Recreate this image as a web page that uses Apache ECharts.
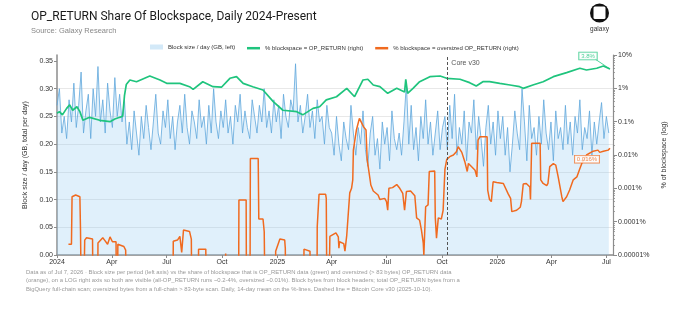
<!DOCTYPE html>
<html><head><meta charset="utf-8">
<script src="https://cdn.jsdelivr.net/npm/echarts@6/dist/echarts.min.js"></script>
<style>html,body{margin:0;padding:0;background:#fff}#c{width:679px;height:314px}</style>
</head><body><div id="c"></div>
<script>
// ---------- DATA ----------
const titleText = 'OP_RETURN Share Of Blockspace, Daily 2024-Present';
const subtitleText = 'Source: Galaxy Research';
const seriesNames = ['Block size / day (GB, left)', '% blockspace = OP_RETURN (right)', '% blockspace = oversized OP_RETURN (right)'];
const xTickDates = ['2024-01-01','2024-04-01','2024-07-01','2024-10-01','2025-01-01','2025-04-01','2025-07-01','2025-10-01','2026-01-01','2026-04-01','2026-07-01'];
const leftTicks = [0, 0.05, 0.10, 0.15, 0.20, 0.25, 0.30, 0.35];
const rightMinorTicks = [2e-5,3e-5,4e-5,5e-5,6e-5,7e-5,8e-5,9e-5, 2e-4,3e-4,4e-4,5e-4,6e-4,7e-4,8e-4,9e-4, 2e-3,3e-3,4e-3,5e-3,6e-3,7e-3,8e-3,9e-3, 0.02,0.03,0.04,0.05,0.06,0.07,0.08,0.09, 0.2,0.3,0.4,0.5,0.6,0.7,0.8,0.9, 2,3,4,5,6,7,8,9];
const coreV30Date = '2025-10-10';
const coreV30Label = 'Core v30';
// block size (GB / day), sampled every 4 days from 2024-01-01
const blockStartDate = '2024-01-01';
const blockStepDays = 4;
const blockSizes = [
 0.27,0.30,0.22,0.25,0.21,0.28,0.24,0.31,0.23,0.27,0.33,0.22,0.26,0.29,0.21,0.30,0.25,0.34,0.24,0.28,0.22,0.31,0.26,0.23,0.32,0.25,0.29,0.24,
 0.28,0.20,0.24,0.19,0.26,0.22,0.18,0.25,0.21,0.27,0.23,0.19,0.24,0.29,0.22,0.20,0.26,0.23,0.28,0.21,
 0.25,0.19,0.24,0.27,0.22,0.29,0.23,0.20,0.26,0.24,0.21,0.28,0.23,0.25,0.20,0.27,0.22,0.30,0.24,0.21,
 0.26,0.23,0.28,0.22,0.25,0.20,0.27,0.24,0.29,0.22,0.26,0.23,0.21,0.28,0.25,0.22,0.27,0.24,0.30,0.23,
 0.26,0.22,0.28,0.24,0.27,0.21,0.29,0.25,0.23,0.28,0.26,0.345,0.24,
 0.27,0.22,0.25,0.29,0.23,0.26,0.21,0.28,0.24,0.25,0.20,0.27,0.23,
 0.22,0.18,0.25,0.20,0.17,0.24,0.21,0.19,0.27,0.22,0.18,0.23,0.20,0.26,0.19,0.16,0.22,0.25,0.18,0.21,
 0.155,0.24,0.20,0.23,0.17,0.26,0.21,0.19,0.22,0.18,0.24,0.31,0.20,0.27,0.19,0.23,0.17,0.25,0.21,0.28,
 0.20,0.24,0.18,0.22,0.26,0.19,0.23,
 0.25,0.19,0.27,0.21,0.29,0.18,0.23,0.20,0.26,0.17,0.24,0.22,0.28,0.19,0.25,0.21,0.16,0.23,0.27,0.20,0.24,0.18,0.26,
 0.21,0.25,0.18,0.23,0.15,0.20,0.26,0.22,0.19,0.30,0.24,0.17,0.27,0.21,0.23,0.18,0.25,0.20,0.28,0.22,
 0.19,0.24,0.17,0.26,0.21,0.23,0.19,0.27,0.20,0.24,0.18,0.25,0.22,0.28,0.19,0.23,0.21,0.26,0.18,0.24,
 0.20,0.24,0.275,0.21,0.25,0.22
];
// % of blockspace that is OP_RETURN (14-day mean)
const opReturnShare = [
 ['2024-01-01',0.18],['2024-01-05',0.20],['2024-01-10',0.16],['2024-01-17',0.25],['2024-01-22',0.32],['2024-01-27',0.22],['2024-02-03',0.28],['2024-02-08',0.20],['2024-02-13',0.11],['2024-02-24',0.135],['2024-03-12',0.11],['2024-03-29',0.10],['2024-04-06',0.12],['2024-04-14',0.135],['2024-04-19',0.145],['2024-04-22',0.6],['2024-04-25',1.3],['2024-05-01',1.78],['2024-05-12',1.58],['2024-06-03',2.34],['2024-06-20',1.78],['2024-07-01',1.41],['2024-07-23',1.41],['2024-08-08',1.12],['2024-08-14',0.93],['2024-08-30',1.58],['2024-09-16',1.12],['2024-09-30',1.08],['2024-10-14',2.0],['2024-10-25',2.24],['2024-11-05',1.41],['2024-11-21',1.12],['2024-12-08',0.89],['2024-12-25',0.40],
 ['2025-01-10',0.22],['2025-02-02',0.20],['2025-02-12',0.16],['2025-03-01',0.25],['2025-03-12',0.28],['2025-03-23',0.45],['2025-04-09',0.56],['2025-04-26',1.0],['2025-05-09',0.56],['2025-05-23',1.78],['2025-05-31',1.87],['2025-06-09',1.26],['2025-06-20',1.12],['2025-07-03',0.71],['2025-07-18',1.0],['2025-07-31',0.78],['2025-08-02',1.87],['2025-08-05',0.71],['2025-08-14',1.0],['2025-08-25',1.58],['2025-09-11',2.24],['2025-09-28',2.34],['2025-10-09',2.0],['2025-10-31',1.87],['2025-11-16',1.48],['2025-11-27',1.17],['2025-12-08',1.58],['2025-12-19',1.58],
 ['2026-01-05',1.41],['2026-01-22',1.26],['2026-02-07',1.12],['2026-02-13',1.0],['2026-03-01',1.26],['2026-03-18',1.58],['2026-04-04',2.24],['2026-04-26',2.95],['2026-05-18',4.0],['2026-05-29',3.55],['2026-06-15',4.0],['2026-06-26',4.68],['2026-07-07',3.8]
];
// % of blockspace that is oversized (>83 bytes) OP_RETURN (14-day mean); 0 = none
const oversizedShare = [
 ['2024-01-20',2.1e-5],['2024-01-25',2.1e-5],['2024-01-26',5.6e-4],['2024-02-01',6.3e-4],['2024-02-08',5.6e-4],['2024-02-09',5.9e-5],['2024-02-11',5.9e-5],['2024-02-12',0],['2024-02-15',0],['2024-02-16',2.8e-5],['2024-02-19',3.3e-5],['2024-02-29',3.0e-5],['2024-03-02',0],['2024-03-08',0],['2024-03-09',2.3e-5],['2024-03-12',2.5e-5],['2024-03-17',3.3e-5],['2024-03-20',2.8e-5],['2024-03-25',2.1e-5],['2024-03-29',3.5e-5],['2024-04-02',2.5e-5],['2024-04-08',2.5e-5],['2024-04-10',0],['2024-04-11',2.1e-5],['2024-04-21',1.8e-5],['2024-04-24',1.4e-5],['2024-04-26',0],
 ['2024-07-11',0],['2024-07-12',2.6e-5],['2024-07-19',2.8e-5],['2024-07-23',3.6e-5],['2024-07-26',1.2e-5],['2024-07-29',5.6e-5],['2024-08-08',5.1e-5],['2024-08-11',3e-5],['2024-08-13',0],['2024-08-22',0],['2024-08-23',1.5e-5],['2024-09-04',1.5e-5],['2024-09-06',0],['2024-10-06',0],['2024-10-07',1.1e-5],['2024-10-08',0],['2024-10-28',0],['2024-10-29',4.5e-4],['2024-11-10',4.5e-4],['2024-11-11',0],['2024-11-16',0],['2024-11-17',7.9e-3],['2024-11-30',7.9e-3],['2024-12-01',1.2e-4],['2024-12-08',1.2e-4],['2024-12-10',5e-5],['2024-12-13',0],['2024-12-28',0],['2024-12-29',1.3e-5],
 ['2025-01-05',3e-5],['2025-01-08',3.3e-5],['2025-01-13',2.8e-5],['2025-01-14',1.6e-5],['2025-01-16',0],['2025-02-13',0],['2025-02-14',1.5e-5],['2025-02-17',1.6e-5],['2025-02-24',1.3e-5],['2025-02-26',0],['2025-03-07',0],['2025-03-08',7e-5],['2025-03-11',6.6e-4],['2025-03-22',6.6e-4],['2025-03-23',5e-4],['2025-03-25',0],['2025-03-28',0],['2025-03-29',3.6e-5],['2025-04-08',4.6e-5],['2025-04-12',3.5e-5],['2025-04-13',1.6e-5],['2025-04-14',2.5e-5],['2025-04-21',2.2e-5],['2025-04-23',1.3e-5],['2025-04-26',3.9e-5],['2025-05-01',7.3e-4],['2025-05-04',1.0e-3],['2025-05-06',1.8e-3],['2025-05-07',0.014],['2025-05-12',0.056],['2025-05-17',0.126],['2025-05-20',0.112],['2025-05-24',0.07],['2025-05-28',0.056],['2025-05-30',0.0071],['2025-06-05',1.26e-3],['2025-06-09',8.3e-4],['2025-06-17',6.3e-4],['2025-06-20',4.6e-4],['2025-06-28',5e-4],['2025-07-01',4e-4],['2025-07-03',2.2e-4],['2025-07-05',1.0e-3],['2025-07-11',1.05e-3],['2025-07-18',1.3e-3],['2025-07-23',1.0e-3],['2025-07-28',7e-4],['2025-07-31',2.2e-4],['2025-08-03',8e-4],['2025-08-10',8.3e-4],['2025-08-17',6e-4],['2025-08-20',1.3e-4],['2025-08-25',1.1e-4],['2025-08-28',5.6e-5],['2025-08-31',2.3e-5],['2025-09-01',1.0e-5],['2025-09-04',2.8e-4],['2025-09-08',3.2e-4],['2025-09-10',3.2e-3],['2025-09-19',3.3e-3],['2025-09-20',1.3e-4],['2025-09-22',3.2e-5],['2025-09-25',1.3e-4],['2025-09-30',1.2e-4],['2025-10-03',2.2e-4],['2025-10-06',3.7e-3],['2025-10-09',7.4e-3],['2025-10-14',8.9e-3],['2025-10-20',0.010],['2025-10-25',0.0126],['2025-10-28',0.0178],['2025-11-03',0.012],['2025-11-08',0.0063],['2025-11-10',0.0045],['2025-11-12',0.0032],['2025-11-14',0.0056],['2025-11-19',0.0045],['2025-11-25',0.0035],['2025-11-28',0.0022],['2025-11-30',0.028],['2025-12-03',0.035],['2025-12-15',0.035],['2025-12-16',8.9e-4],['2025-12-19',4.6e-4],['2025-12-22',4e-4],['2025-12-25',1.58e-3],['2025-12-31',1.5e-3],
 ['2026-01-11',1.4e-3],['2026-01-19',6.8e-4],['2026-01-23',5e-4],['2026-01-25',2e-4],['2026-02-02',2.2e-4],['2026-02-08',2.7e-4],['2026-02-10',4e-4],['2026-02-13',1.35e-3],['2026-02-18',1.4e-3],['2026-02-24',1.1e-3],['2026-02-25',4.6e-4],['2026-02-27',0.0224],['2026-03-13',0.0224],['2026-03-14',1.8e-3],['2026-03-18',1.4e-3],['2026-03-24',1.2e-3],['2026-03-26',1.4e-3],['2026-03-29',4.5e-3],['2026-04-04',5.5e-3],['2026-04-08',5e-3],['2026-04-12',2.2e-3],['2026-04-18',5.6e-4],['2026-04-20',4e-4],['2026-04-26',5.6e-4],['2026-05-01',8.9e-4],['2026-05-07',1.8e-3],['2026-05-13',2.2e-3],['2026-05-17',3.5e-3],['2026-05-21',5.5e-3],['2026-05-29',0.010],['2026-06-09',0.013],['2026-06-17',0.014],['2026-06-20',0.012],['2026-06-26',0.013],['2026-07-04',0.014],['2026-07-07',0.016]
];
const footnoteLines = [
 'Data as of Jul 7, 2026 · Block size per period (left axis) vs the share of blockspace that is OP_RETURN data (green) and oversized (> 83 bytes) OP_RETURN data',
 '(orange), on a LOG right axis so both are visible (all-OP_RETURN runs ~0.2-4%, oversized ~0.01%). Block bytes from block headers; total OP_RETURN bytes from a',
 'BigQuery full-chain scan; oversized bytes from a full-chain > 83-byte scan. Daily, 14-day mean on the %-lines. Dashed line = Bitcoin Core v30 (2025-10-10).'
];

// ---------- BUILD ----------
const C_BLUE = '#5fa7dc', C_FILL = 'rgba(140,200,240,0.38)', C_GREEN = '#1fc47d', C_ORANGE = '#f06a1f';
const FONT = 'Liberation Sans';
function parseD(s){ const p = s.split('-').map(Number); return Date.UTC(p[0], p[1]-1, p[2]); }
const bs = blockStartDate.split('-').map(Number);
const blockData = blockSizes.map((v,i)=>[Date.UTC(bs[0], bs[1]-1, bs[2] + i*blockStepDays), v]);
const greenData = opReturnShare.map(([d,v])=>[parseD(d), v]);
const orangeData = oversizedShare.map(([d,v])=>[parseD(d), v > 0 ? v : 1e-9]);
const xTicks = xTickDates.map(parseD);
const MONTHS = ['Jan','Feb','Mar','Apr','May','Jun','Jul','Aug','Sep','Oct','Nov','Dec'];
const lastG = greenData[greenData.length-1], lastO = orangeData[orangeData.length-1];
const AX = '#8c8c8c';

const chart = echarts.init(document.getElementById('c'), null, {renderer:'canvas'});
const option = {
  animation:false,
  backgroundColor:'#fff',
  textStyle:{fontFamily:FONT},
  title:{text:titleText, subtext:subtitleText, left:26, top:6, itemGap:4,
    textStyle:{fontFamily:'Roboto', fontSize:12, fontWeight:'normal', color:'#1a1a1a'},
    subtextStyle:{fontFamily:FONT, fontSize:7.5, color:'#888'}},
  legend:[
    {data:[{name:seriesNames[0], icon:'rect', itemStyle:{color:'#d3e9f8'}}], left:150, top:44, padding:0, itemWidth:13, itemHeight:5, itemGap:0,
     textStyle:{fontSize:6, color:'#333', fontFamily:FONT}, selectedMode:false},
    {data:[{name:seriesNames[1], icon:'rect'},{name:seriesNames[2], icon:'rect'}], left:247, top:45.2, padding:0, itemWidth:13, itemHeight:2.5, itemGap:12,
     textStyle:{fontSize:6, color:'#333', fontFamily:FONT}, selectedMode:false}
  ],
  grid:{left:57, right:66, top:55, bottom:59, containLabel:false},
  xAxis:{type:'value', min:parseD('2024-01-01'), max:parseD('2026-07-12'),
    axisLine:{lineStyle:{color:AX, width:1.5}},
    axisTick:{show:true, customValues:xTicks, length:3, lineStyle:{color:AX}},
    axisLabel:{customValues:xTicks, fontSize:7, color:'#333', margin:4, fontFamily:FONT,
      formatter:(v)=>{const d=new Date(v); return d.getUTCMonth()===0 ? String(d.getUTCFullYear()) : MONTHS[d.getUTCMonth()];}},
    splitLine:{show:false}},
  yAxis:[
    {type:'value', min:0, max:0.3608, position:'left',
     axisLine:{show:true, lineStyle:{color:AX, width:1.5}},
     axisTick:{show:true, customValues:leftTicks, length:3, lineStyle:{color:AX}},
     axisLabel:{customValues:leftTicks, fontSize:7, color:'#333', margin:4, formatter:(v)=>v.toFixed(2)},
     splitLine:{show:true, showMaxLine:false, lineStyle:{color:'#e2e2e2', width:0.8}},
     name:'Block size / day (GB, total per day)', nameLocation:'middle', nameGap:23,
     nameTextStyle:{fontSize:7, color:'#333', fontFamily:FONT}},
    {type:'log', logBase:10, min:1e-5, max:10, position:'right',
     axisLine:{show:true, lineStyle:{color:AX, width:1.2}},
     axisTick:{show:true, length:4, lineStyle:{color:AX}},
     axisLabel:{fontSize:7, color:'#333', margin:5, formatter:(v)=>{const e=Math.round(Math.log10(v)); return (e>=0 ? String(Math.pow(10,e)) : '0.'+'0'.repeat(-e-1)+'1') + '%';}},
     splitLine:{show:false},
     name:'% of blockspace (log)', nameLocation:'middle', nameGap:34, nameRotate:90,
     nameTextStyle:{fontSize:7, color:'#333', fontFamily:FONT}},
    {type:'log', logBase:10, min:1e-5, max:10, position:'right',
     axisLine:{show:false}, axisLabel:{show:false}, splitLine:{show:false},
     axisTick:{show:true, customValues:rightMinorTicks, length:2, lineStyle:{color:AX, width:0.8}}}
  ],
  series:[
    {name:seriesNames[0], type:'line', yAxisIndex:0, data:blockData, symbol:'none', z:1,
     lineStyle:{color:C_BLUE, width:0.8}, itemStyle:{color:'#d3e9f8'}, areaStyle:{color:C_FILL}},
    {name:seriesNames[1], type:'line', yAxisIndex:1, data:greenData, symbol:'none', z:4,
     lineStyle:{color:C_GREEN, width:1.7}, itemStyle:{color:C_GREEN},
     markLine:{silent:true, symbol:'none', label:{show:false}, lineStyle:{color:'#555', type:[3,2], width:1},
       data:[{xAxis:parseD(coreV30Date)}]}},
    {name:seriesNames[2], type:'line', yAxisIndex:1, data:orangeData, symbol:'none', z:3,
     lineStyle:{color:C_ORANGE, width:1.5}, itemStyle:{color:C_ORANGE}},
    {type:'scatter', yAxisIndex:1, data:[lastG], symbolSize:1, itemStyle:{color:'rgba(0,0,0,0)'}, z:6,
     label:{show:true, position:'inside', formatter:(p)=>p.value[1].toFixed(1)+'%', color:C_GREEN, fontSize:6,
       backgroundColor:'#fff', borderColor:C_GREEN, borderWidth:0.8, padding:[1,2,0,2]},
     labelLayout:{dx:-22, dy:-13}},
    {type:'scatter', yAxisIndex:1, data:[lastO], symbolSize:1, itemStyle:{color:'rgba(0,0,0,0)'}, z:6,
     label:{show:true, position:'inside', formatter:(p)=>p.value[1].toFixed(3)+'%', color:C_ORANGE, fontSize:6,
       backgroundColor:'#fff', borderColor:C_ORANGE, borderWidth:0.8, padding:[1,2,0,2]},
     labelLayout:{dx:-23, dy:11}}
  ]
};
chart.setOption(option);

const cx = chart.convertToPixel({xAxisIndex:0}, parseD(coreV30Date));
const topY = chart.convertToPixel({yAxisIndex:1}, 10);
const endG = chart.convertToPixel({xAxisIndex:0, yAxisIndex:1}, lastG);
chart.setOption({graphic:{elements:[
  {type:'text', left:26, top:268, style:{text:footnoteLines.join('\n'), fontSize:5.9, lineHeight:8.4, fill:'#999', fontFamily:FONT}},
  {type:'text', x:cx+4, y:topY+5, style:{text:coreV30Label, fontSize:7, fill:'#555', fontFamily:FONT}},
  {type:'line', shape:{x1:endG[0], y1:endG[1], x2:endG[0]-15, y2:endG[1]-10}, style:{stroke:C_GREEN, lineWidth:0.8}, z:5},
  {type:'circle', shape:{cx:599.5, cy:13, r:9.5}, style:{fill:'#111'}},
  {type:'rect', shape:{x:593.5, y:6.5, width:12, height:12.5, r:1.5}, style:{fill:'#fff'}},
  {type:'text', x:599.5, y:26, style:{text:'galaxy', fontSize:6.5, fill:'#333', align:'center', fontFamily:FONT}}
]}});
</script></body></html>
